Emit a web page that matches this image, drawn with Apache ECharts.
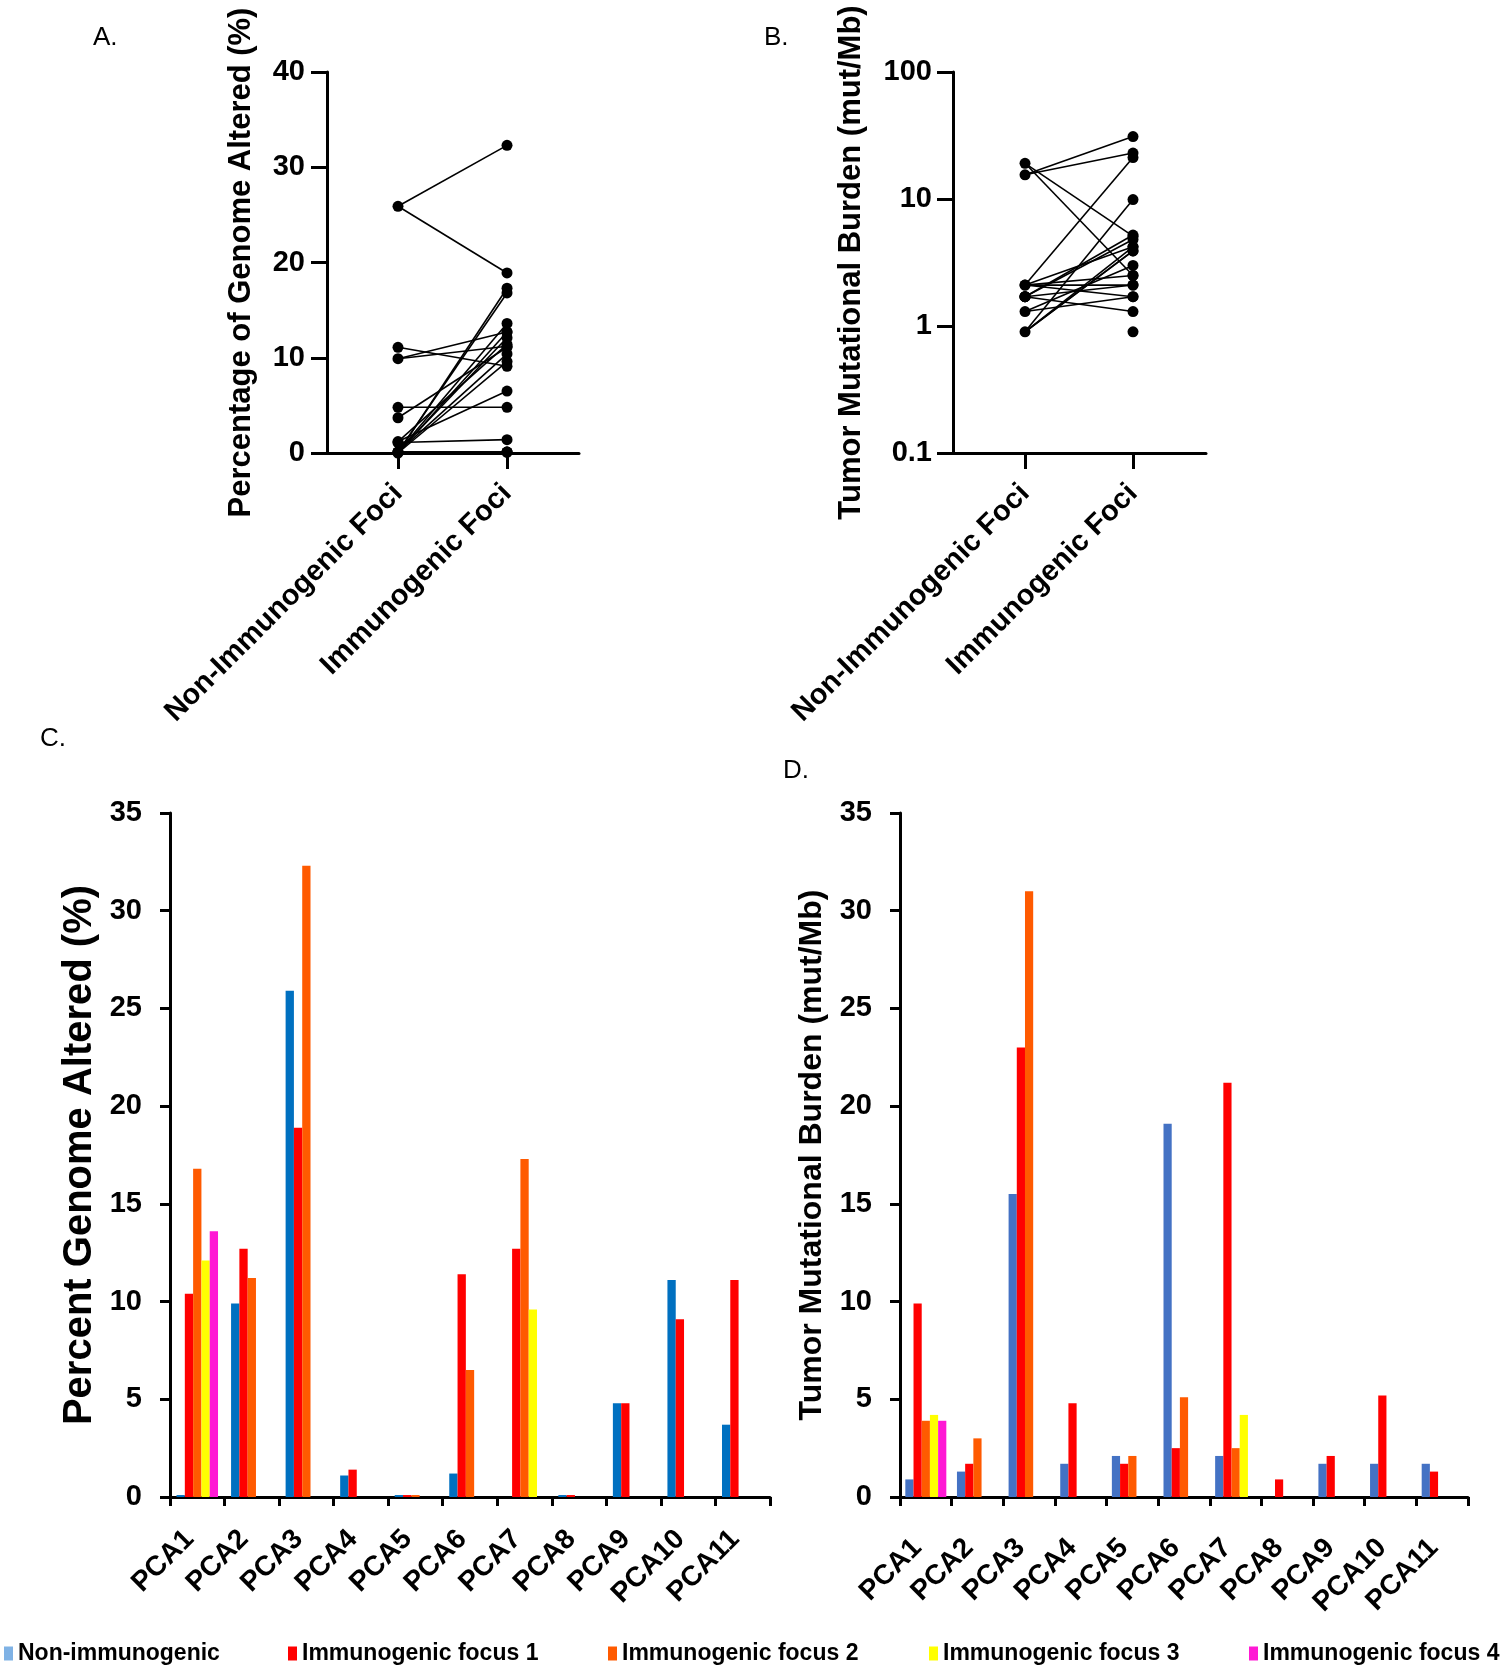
<!DOCTYPE html>
<html><head><meta charset="utf-8">
<script src="https://cdn.jsdelivr.net/npm/echarts@6/dist/echarts.min.js"></script>
<style>html,body{margin:0;padding:0;background:#fff}#c{width:1500px;height:1665px}</style>
</head><body><div id="c"></div>
<script>
// ---- data ----
const samples = ['PCA1','PCA2','PCA3','PCA4','PCA5','PCA6','PCA7','PCA8','PCA9','PCA10','PCA11'];
const seriesNames = ['Non-immunogenic','Immunogenic focus 1','Immunogenic focus 2','Immunogenic focus 3','Immunogenic focus 4'];
const pairCategories = ['Non-Immunogenic Foci','Immunogenic Foci'];

// Percent genome altered (%)
const pgaNon = [0.1, 9.9, 25.9, 1.1, 0.1, 1.2, 0, 0.1, 4.8, 11.1, 3.7];
const pgaF1  = [10.4, 12.7, 18.9, 1.4, 0.1, 11.4, 12.7, 0.1, 4.8, 9.1, 11.1];
const pgaF2  = [16.8, 11.2, 32.3, null, 0.1, 6.5, 17.3, null, null, null, null];
const pgaF3  = [12.1, null, null, null, null, null, 9.6, null, null, null, null];
const pgaF4  = [13.6, null, null, null, null, null, null, null, null, null, null];

// Tumor mutational burden (mut/Mb)
const tmbNon = [0.9, 1.3, 15.5, 1.7, 2.1, 19.1, 2.1, null, 1.7, 1.7, 1.7];
const tmbF1  = [9.9, 1.7, 23.0, 4.8, 1.7, 2.5, 21.2, 0.9, 2.1, 5.2, 1.3];
const tmbF2  = [3.9, 3.0, 31.0, null, 2.1, 5.1, 2.5, null, null, null, null];
const tmbF3  = [4.2, null, null, null, null, null, 4.2, null, null, null, null];
const tmbF4  = [3.9, null, null, null, null, null, null, null, null, null, null];

const yTicksA = [0, 40, 10];
const yTicksB = [0.1, 100];
const yTicksCD = [0, 35, 5];

// ---- styles ----
const FF = '"Liberation Sans", Arial, Helvetica, sans-serif';
const colorsC = ['#0070C0','#FF0000','#FF5A00','#FFFF00','#FF19D4'];
const colorsD = ['#4472C4','#FF0000','#FF5A00','#FFFF00','#FF19D4'];
const legendColors = ['#7FB2E5','#FF0000','#FF5A00','#FFFF00','#FF19D4'];
const legendX = [4, 288, 608, 929, 1249];

const axisLine = {onZero:false, lineStyle:{color:'#000', width:3}};

function buildPairs(non, foci, logScale){
  const lines = [], pts = [];
  for (let i = 0; i < non.length; i++) {
    const okN = non[i] != null && (!logScale || non[i] > 0);
    if (okN) pts.push([0, non[i]]);
    foci.forEach(f => {
      const v = f[i];
      if (v == null || (logScale && v <= 0)) return;
      pts.push([1, v]);
      if (okN) lines.push([[0, non[i]], [1, v]]);
    });
  }
  return {lines, pts};
}

const pa = buildPairs(pgaNon, [pgaF1, pgaF2, pgaF3, pgaF4], false);
const pb = buildPairs(tmbNon, [tmbF1, tmbF2, tmbF3, tmbF4], true);

const series = [];
pa.lines.forEach((d, k) => series.push({type:'line', name:'pa'+k, xAxisIndex:0, yAxisIndex:0, data:d, symbol:'none', lineStyle:{color:'#000', width:1.6}, z:2}));
series.push({type:'scatter', name:'paPts', xAxisIndex:0, yAxisIndex:0, data:pa.pts, symbolSize:11, itemStyle:{color:'#000', opacity:1}, z:3});
pb.lines.forEach((d, k) => series.push({type:'line', name:'pb'+k, xAxisIndex:1, yAxisIndex:1, data:d, symbol:'none', lineStyle:{color:'#000', width:1.6}, z:2}));
series.push({type:'scatter', name:'pbPts', xAxisIndex:1, yAxisIndex:1, data:pb.pts, symbolSize:11, itemStyle:{color:'#000', opacity:1}, z:3});

const pgaAll = [pgaNon, pgaF1, pgaF2, pgaF3, pgaF4];
const tmbAll = [tmbNon, tmbF1, tmbF2, tmbF3, tmbF4];
pgaAll.forEach((arr, i) => series.push({type:'bar', name:seriesNames[i], xAxisIndex:2, yAxisIndex:2, data:arr, barWidth:8.3, barGap:'0%', itemStyle:{color:colorsC[i]}}));
tmbAll.forEach((arr, i) => series.push({type:'bar', name:seriesNames[i], xAxisIndex:3, yAxisIndex:3, data:arr, barWidth:8.2, barGap:'0%', itemStyle:{color:colorsD[i]}}));

const pairXAxis = (gi, min, max) => ({
  type:'value', gridIndex:gi, min:min, max:max,
  axisLine: axisLine, splitLine:{show:false},
  axisTick:{show:true, length:16, lineStyle:{color:'#000', width:3}, customValues:[0,1]},
  axisLabel:{show:true, customValues:[0,1], rotate:45, margin:36,
    formatter:v => pairCategories[Math.round(v)],
    fontSize:29, fontWeight:'bold', color:'#000', fontFamily:FF}
});

const barXAxis = (gi, m, p) => ({
  type:'category', gridIndex:gi, data:samples,
  axisLine: axisLine,
  axisTick:{show:true, length:9, lineStyle:{color:'#000', width:3}, alignWithLabel:false},
  axisLabel:{rotate:45, margin:m, padding:[0, p, 0, 0], fontSize:28, fontWeight:'bold', color:'#000', fontFamily:FF, interval:0}
});

const yLab = (m) => ({margin:m, fontSize:29, fontWeight:'bold', color:'#000', fontFamily:FF});

const option = {
  animation:false,
  backgroundColor:'#fff',
  grid:[
    {left:327, top:72, width:252, height:381},
    {left:953, top:72, width:253, height:381},
    {left:170, top:813, width:600, height:684},
    {left:900, top:813, width:568, height:684}
  ],
  xAxis:[
    pairXAxis(0, -0.651, 1.66),
    pairXAxis(1, -0.667, 1.676),
    barXAxis(2, 30, 11),
    barXAxis(3, 38, 12)
  ],
  yAxis:[
    {type:'value', gridIndex:0, min:yTicksA[0], max:yTicksA[1], interval:yTicksA[2],
      axisLine:{show:true, onZero:false, lineStyle:{color:'#000', width:3}}, axisTick:{show:true, length:16, lineStyle:{color:'#000', width:3}},
      splitLine:{show:false}, axisLabel:yLab(22),
      name:'Percentage of Genome Altered (%)', nameLocation:'middle', nameGap:70,
      nameTextStyle:{fontSize:31, fontWeight:'bold', color:'#000', fontFamily:FF}},
    {type:'log', logBase:10, gridIndex:1, min:yTicksB[0], max:yTicksB[1],
      axisLine:{show:true, onZero:false, lineStyle:{color:'#000', width:3}}, axisTick:{show:true, length:16, lineStyle:{color:'#000', width:3}},
      minorTick:{show:false}, splitLine:{show:false},
      axisLabel:Object.assign(yLab(21), {formatter:v => String(+(+v).toPrecision(3))}),
      name:'Tumor Mutational Burden (mut/Mb)', nameLocation:'middle', nameGap:86,
      nameTextStyle:{fontSize:31, fontWeight:'bold', color:'#000', fontFamily:FF}},
    {type:'value', gridIndex:2, min:yTicksCD[0], max:yTicksCD[1], interval:yTicksCD[2],
      axisLine:{show:true, onZero:false, lineStyle:{color:'#000', width:3}}, axisTick:{show:true, length:10, lineStyle:{color:'#000', width:3}},
      splitLine:{show:false}, axisLabel:yLab(28),
      name:'Percent Genome Altered (%)', nameLocation:'middle', nameGap:70,
      nameTextStyle:{fontSize:40, fontWeight:'bold', color:'#000', fontFamily:FF}},
    {type:'value', gridIndex:3, min:yTicksCD[0], max:yTicksCD[1], interval:yTicksCD[2],
      axisLine:{show:true, onZero:false, lineStyle:{color:'#000', width:3}}, axisTick:{show:true, length:10, lineStyle:{color:'#000', width:3}},
      splitLine:{show:false}, axisLabel:yLab(28),
      name:'Tumor Mutational Burden (mut/Mb)', nameLocation:'middle', nameGap:72,
      nameTextStyle:{fontSize:32, fontWeight:'bold', color:'#000', fontFamily:FF}}
  ],
  legend: seriesNames.map((n, i) => ({
    data:[{name:n, itemStyle:{color:legendColors[i]}}],
    left:legendX[i], top:1642, padding:0, icon:'rect', itemWidth:9, itemHeight:14,
    selectedMode:false,
    textStyle:{fontSize:23, fontWeight:'bold', color:'#000', fontFamily:FF}
  })),
  graphic:[
    {type:'text', left:93, top:25, style:{text:'A.', fontSize:26, fill:'#000', fontFamily:FF}},
    {type:'text', left:764, top:25, style:{text:'B.', fontSize:26, fill:'#000', fontFamily:FF}},
    {type:'text', left:40, top:726, style:{text:'C.', fontSize:26, fill:'#000', fontFamily:FF}},
    {type:'text', left:783, top:758, style:{text:'D.', fontSize:26, fill:'#000', fontFamily:FF}}
  ],
  series: series
};

const chart = echarts.init(document.getElementById('c'), null, {renderer:'canvas'});
chart.setOption(option);
</script>
</body></html>
